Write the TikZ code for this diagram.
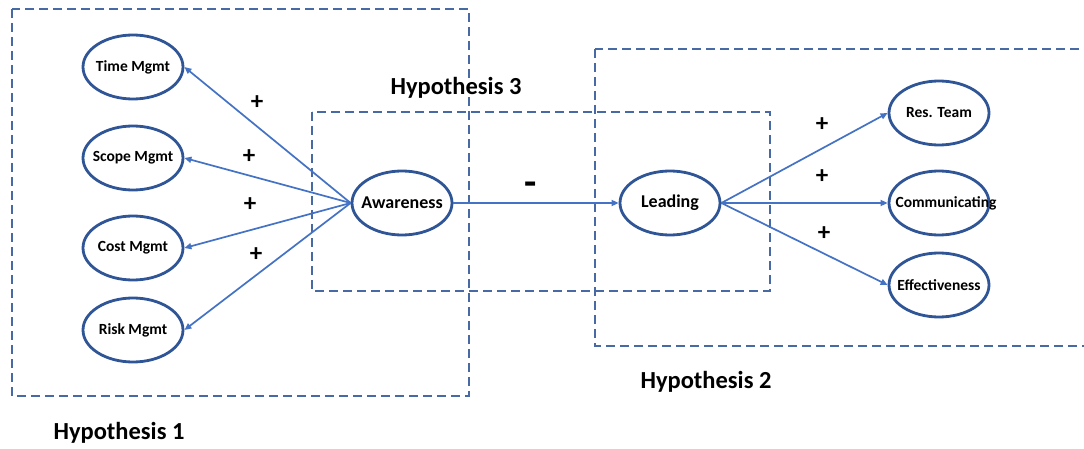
\documentclass[tikz,border=0pt]{standalone}
\usepackage{fontspec}
\setmainfont{Carlito}
\usepackage{tikz}
\usetikzlibrary{positioning}
\usetikzlibrary{shapes.geometric}
\usetikzlibrary{arrows.meta}
\definecolor{ovalblue}{RGB}{47,85,151}
\definecolor{arrowblue}{RGB}{68,114,196}
\definecolor{boxblue}{RGB}{72,106,164}

\begin{document}
\begin{tikzpicture}[x=1pt,y=-1pt,
    construct/.style={ellipse,draw=ovalblue,line width=2.8pt,fill=white,
        minimum width=100pt,minimum height=64pt,inner sep=0pt},
    outerlbl/.style={font=\fontsize{15.5}{17}\selectfont\bfseries},
    innerlbl/.style={font=\fontsize{18}{20}\selectfont\bfseries},
    hyplbl/.style={font=\fontsize{24.5}{27}\selectfont\bfseries},
    signlbl/.style={font=\fontsize{25}{27}\selectfont\bfseries},
    hypbox/.style={draw=boxblue,line width=1.1pt,dash pattern=on 9pt off 5pt},
    relation/.style={-{Triangle[length=7pt,width=6pt]},draw=arrowblue,line width=1.7pt}]
\clip (0,0) rectangle (1084,449);
\fill[white] (0,0) rectangle (1084,449);

% hypothesis frames
\draw[hypbox] (12,9) rectangle (469,396);
\draw[hypbox] (595,49) rectangle (1100,346);
\draw[hypbox] (312,112) rectangle (770,291);

\node[hyplbl] (h1) at (119,433) {Hypothesis 1};
\node[hyplbl] (h2) at (706,382) {Hypothesis 2};
\node[hyplbl] (h3) at (456,88)  {Hypothesis 3};

% constructs
\node[construct, label={[outerlbl]center:Time Mgmt}]   (time)  at (133,67)  {};
\node[construct, label={[outerlbl]center:Scope Mgmt}]  (scope) at (133,158) {};
\node[construct, label={[outerlbl]center:Cost Mgmt}]   (cost)  at (133,248) {};
\node[construct, label={[outerlbl]center:Risk Mgmt}]   (risk)  at (133,330) {};
\node[construct, label={[innerlbl]center:Awareness}]   (aware) at (402,203) {};
\node[construct, label={[innerlbl]center:Leading}]     (lead)  at (670,203) {};
\node[construct, label={[outerlbl]center:Res. Team}]   (team)  at (939,113) {};
\node[construct, label={[outerlbl,xshift=7pt]center:Communicating}] (comm) at (939,203) {};
\node[construct, label={[outerlbl]center:Effectiveness}] (eff) at (939,285) {};

% relations
\foreach \t in {time,scope,cost,risk}
    \draw[relation] (aware.west) -- (\t.east);
\draw[relation] (aware.east) -- (lead.west);
\foreach \t in {team,comm,eff}
    \draw[relation] (lead.east) -- (\t.west);

% signs
\node[signlbl] (s1) at (257,103) {+};
\node[signlbl] (s2) at (249,157) {+};
\node[signlbl] (s3) at (250,205) {+};
\node[signlbl] (s4) at (256,255) {+};
\node[font=\fontsize{40}{42}\selectfont\bfseries, anchor=base] (s5) at (531,196) {-};
\node[signlbl] (s6) at (822,125) {+};
\node[signlbl] (s7) at (822,177) {+};
\node[signlbl] (s8) at (824,234) {+};
\end{tikzpicture}
\end{document}
